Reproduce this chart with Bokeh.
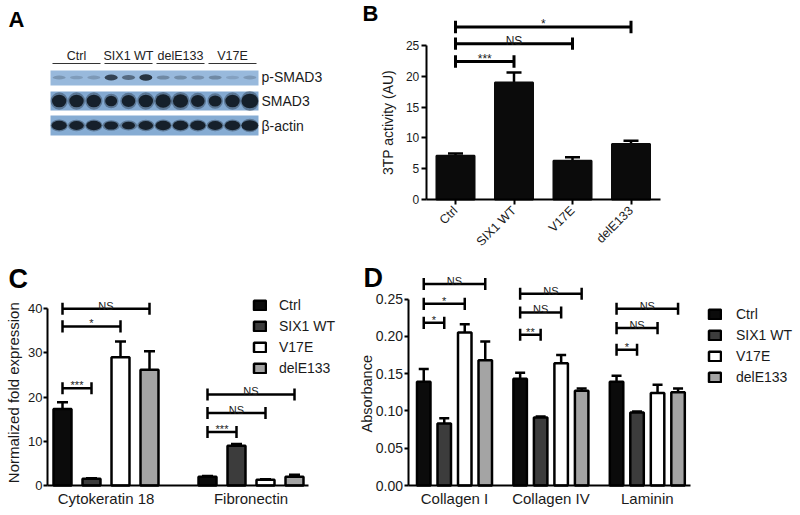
import math
from bokeh.plotting import figure
from bokeh.models import (Range1d, FixedTicker, Whisker, TeeHead, ColumnDataSource,
                          Legend, LegendItem, NumeralTickFormatter)
from bokeh.layouts import column, row
from bokeh.core.properties import value
from bokeh.embed import file_html
from bokeh.resources import INLINE

FONT = "Liberation Sans"

# ---------------- data ----------------
# Panel A (western blot band strengths, 12 lanes)
blot_groups = ["Ctrl", "SIX1 WT", "delE133", "V17E"]
blot_rows = ["p-SMAD3", "SMAD3", "\u03b2-actin"]
psmad3_band = [0.22, 0.18, 0.20, 0.75, 0.50, 0.85, 0.30, 0.28, 0.25, 0.30, 0.15, 0.20]
smad3_band = [0.90, 0.90, 0.90, 0.75, 0.85, 0.90, 0.95, 0.95, 0.85, 0.80, 0.90, 1.05]
actin_band = [0.85, 0.80, 0.85, 0.75, 0.70, 0.80, 0.85, 0.85, 0.85, 0.80, 0.85, 0.95]

# Panel B
b_categories = ["Ctrl", "SIX1 WT", "V17E", "delE133"]
b_mean = [7.1, 19.0, 6.3, 9.0]
b_sem = [0.35, 1.6, 0.55, 0.55]
b_sig_target = [3, 2, 1]
b_sig_y = [28.0, 25.3, 22.4]
b_sig_label = ["*", "NS", "***"]

# Panel C
series = ["Ctrl", "SIX1 WT", "V17E", "delE133"]
series_colors = ["#0b0b0b", "#3c3c3c", "#ffffff", "#a4a4a4"]
c_groups = ["Cytokeratin 18", "Fibronectin"]
c_ctrl = [17.3, 2.0]
c_ctrl_sem = [1.55, 0.15]
c_six1 = [1.5, 9.0]
c_six1_sem = [0.15, 0.4]
c_v17e = [29.0, 1.3]
c_v17e_sem = [3.6, 0.1]
c_dele = [26.2, 2.0]
c_dele_sem = [4.2, 0.45]
c_sig_group = [0, 0, 0, 1, 1, 1]
c_sig_target = [3, 2, 1, 3, 2, 1]
c_sig_y = [40.0, 36.0, 22.0, 20.6, 16.4, 12.1]
c_sig_label = ["NS", "*", "***", "NS", "NS", "***"]

# Panel D
d_groups = ["Collagen I", "Collagen IV", "Laminin"]
d_ctrl = [0.139, 0.143, 0.139]
d_ctrl_sem = [0.017, 0.008, 0.008]
d_six1 = [0.083, 0.091, 0.098]
d_six1_sem = [0.007, 0.0015, 0.0012]
d_v17e = [0.205, 0.164, 0.124]
d_v17e_sem = [0.011, 0.011, 0.011]
d_dele = [0.168, 0.127, 0.125]
d_dele_sem = [0.025, 0.003, 0.005]
d_sig_group = [0, 0, 0, 1, 1, 1, 2, 2, 2]
d_sig_target = [3, 2, 1, 3, 2, 1, 3, 2, 1]
d_sig_y = [0.270, 0.2435, 0.218, 0.257, 0.232, 0.202, 0.237, 0.211, 0.182]
d_sig_label = ["NS", "*", "*", "NS", "NS", "**", "NS", "NS", "*"]


# ---------------- helpers ----------------
def base_fig(w, h, xr, yr):
    p = figure(width=w, height=h, x_range=Range1d(*xr), y_range=Range1d(*yr),
               min_border=0, output_backend="svg", toolbar_location=None)
    p.outline_line_color = None
    p.xgrid.visible = False
    p.ygrid.visible = False
    p.background_fill_color = "white"
    p.border_fill_color = "white"
    for ax in p.axis:
        ax.axis_line_width = 2
        ax.axis_line_color = "black"
        ax.major_tick_line_width = 2
        ax.major_tick_line_color = "black"
        ax.minor_tick_line_color = None
        ax.major_tick_in = 0
        ax.major_label_text_font = FONT
        ax.major_label_text_color = "#1a1a1a"
    return p


def add_whisker(p, xs, means, sems, head, lw):
    src = ColumnDataSource(dict(base=xs, lower=means,
                                upper=[m + s for m, s in zip(means, sems)]))
    w = Whisker(source=src, base="base", lower="lower", upper="upper",
                lower_head=None,
                upper_head=TeeHead(size=head, line_width=lw, line_color="black"),
                line_width=lw, line_color="black")
    p.add_layout(w)


def add_brackets(p, x0s, x1s, ys, labels, cap, fsize, lw):
    p.segment(x0=x0s, y0=ys, x1=x1s, y1=ys, line_width=lw, line_color="black")
    p.segment(x0=x0s, y0=[y - cap for y in ys], x1=x0s, y1=[y + cap for y in ys],
              line_width=lw, line_color="black")
    p.segment(x0=x1s, y0=[y - cap for y in ys], x1=x1s, y1=[y + cap for y in ys],
              line_width=lw, line_color="black")
    mids = [(a + b) / 2 for a, b in zip(x0s, x1s)]
    p.text(x=mids, y=ys, text=labels, text_align="center", text_baseline="alphabetic",
           text_font=value(FONT), text_font_size=fsize, text_color="#1a1a1a", y_offset=-3)


def add_text(p, x, y, t, size, bold=False, angle=0.0, align="left", baseline="top"):
    p.text(x=[x], y=[y], text=[t], text_align=align, text_baseline=baseline, angle=angle,
           text_font=value(FONT), text_font_style="bold" if bold else "normal",
           text_font_size=size, text_color="black" if bold else "#1a1a1a")


W, H = 798, 513      # whole layout
SPLIT_TOP_X, SPLIT_BOT_X, SPLIT_Y = 360, 340, 260

# ---------------- Panel A : blot ----------------
pa = figure(width=SPLIT_TOP_X, height=SPLIT_Y, x_range=Range1d(0, SPLIT_TOP_X),
            y_range=Range1d(SPLIT_Y, 0), output_backend="svg", toolbar_location=None,
            min_border=0, x_axis_location=None, y_axis_location=None)
pa.outline_line_color = None
pa.grid.visible = False
pa.background_fill_color = "white"
pa.border_fill_color = "white"

strip_left, strip_right = 50, 258
n_lanes = len(psmad3_band)
lane_w = (strip_right - strip_left) / n_lanes
lane_x = [strip_left + (i + 0.5) * lane_w for i in range(n_lanes)]
row_top = [70, 91, 115]
row_bot = [85, 110, 135]
row_mid = [(a + b) / 2 for a, b in zip(row_top, row_bot)]
strip_colors = ["#98b9dc", "#83a9d1", "#86acd3"]
pa.quad(left=[strip_left] * 3, right=[strip_right] * 3, top=row_top, bottom=row_bot,
        fill_color=strip_colors, line_color=None)

band_col = "#121b25"
pa.ellipse(x=lane_x, y=[row_mid[0] - 0.5] * n_lanes, width=[lane_w * 0.75] * n_lanes,
           height=[3 + 4 * v for v in psmad3_band], fill_color=band_col,
           fill_alpha=psmad3_band, line_color=None)
pa.ellipse(x=lane_x, y=[row_mid[1]] * n_lanes, width=[lane_w * min(1.05, v + 0.1) for v in smad3_band],
           height=[17 * v + 2 for v in smad3_band], fill_color=band_col, fill_alpha=0.35, line_color=None)
pa.ellipse(x=lane_x, y=[row_mid[1]] * n_lanes, width=[lane_w * 0.92 * v for v in smad3_band],
           height=[14 * v for v in smad3_band], fill_color=band_col, fill_alpha=0.95, line_color=None)
pa.ellipse(x=lane_x, y=[row_mid[2]] * n_lanes, width=[lane_w for v in actin_band],
           height=[13 * v + 1 for v in actin_band], fill_color=band_col, fill_alpha=0.35, line_color=None)
pa.ellipse(x=lane_x, y=[row_mid[2]] * n_lanes, width=[lane_w * 0.9 * v + 2 for v in actin_band],
           height=[11 * v for v in actin_band], fill_color=band_col, fill_alpha=0.95, line_color=None)

grp_center = [strip_left + (g * 3 + 1.5) * lane_w for g in range(len(blot_groups))]
pa.text(x=grp_center, y=[55] * 4, text=blot_groups, text_align="center",
        text_baseline="middle", text_font=value(FONT), text_font_size="12.5px",
        text_color="#222222")
pa.segment(x0=[strip_left + g * 3 * lane_w + 2 for g in range(4)], y0=[63] * 4,
           x1=[strip_left + (g + 1) * 3 * lane_w - 2 for g in range(4)], y1=[63] * 4,
           line_width=1.2, line_color="#333333")
pa.text(x=[261] * 3, y=[row_mid[0] - 1, row_mid[1], row_mid[2]], text=blot_rows, text_align="left",
        text_baseline="middle", text_font=value(FONT), text_font_size="14px",
        text_color="#1a1a1a")
add_text(pa, 8, 6, "A", "22px", bold=True)

# ---------------- Panel B ----------------
# 58.5 px per category, 6.16 px per unit, axis corner at (426, 199)
B_PX, B_PY, B_X0, B_Y0 = 58.5, 6.16, 455, 199
pb = base_fig(W - SPLIT_TOP_X, SPLIT_Y,
              ((SPLIT_TOP_X - B_X0) / B_PX, (W - B_X0) / B_PX),
              (-(SPLIT_Y - B_Y0) / B_PY, B_Y0 / B_PY))
b_x = list(range(len(b_categories)))
pb.vbar(x=b_x, top=b_mean, width=0.65, fill_color="#0b0b0b", line_color="#0b0b0b", line_width=2)
add_whisker(pb, b_x, b_mean, b_sem, 15, 2.5)
add_brackets(pb, [0] * 3, b_sig_target, b_sig_y, b_sig_label, 1.0, "12px", 3)
pb.yaxis.fixed_location = -0.5
pb.yaxis.ticker = FixedTicker(ticks=[0, 5, 10, 15, 20, 25])
pb.yaxis.bounds = (0, 25)
pb.yaxis.major_tick_out = 5
pb.yaxis.major_label_standoff = 2
pb.yaxis.major_label_text_font_size = "12px"
pb.xaxis.fixed_location = 0
pb.xaxis.bounds = (-0.5, 3.5)
pb.xaxis.ticker = FixedTicker(ticks=b_x)
pb.xaxis.major_label_overrides = {i: c for i, c in zip(b_x, b_categories)}
pb.xaxis.major_label_orientation = math.pi / 4
pb.xaxis.major_tick_out = 5
pb.xaxis.major_label_text_font_size = "12.5px"
pb.xaxis.major_label_standoff = 4
add_text(pb, (387 - B_X0) / B_PX, 12.5, "3TP activity (AU)", "14px", angle=math.pi / 2,
         align="center", baseline="middle")
add_text(pb, (362 - B_X0) / B_PX, B_Y0 / B_PY, "B", "22px", bold=True)

# ---------------- Panel C ----------------
# 145 px per group, 4.42 px per unit, axis corner at (47, 485)
C_PX, C_PY, C_X0, C_Y0 = 145, 4.42, 105.5, 485
pc = base_fig(SPLIT_BOT_X, H - SPLIT_Y,
              ((0 - C_X0) / C_PX, (SPLIT_BOT_X - C_X0) / C_PX),
              (-(H - C_Y0) / C_PY, (C_Y0 - SPLIT_Y) / C_PY))
c_vals = [c_ctrl, c_six1, c_v17e, c_dele]
c_sems = [c_ctrl_sem, c_six1_sem, c_v17e_sem, c_dele_sem]
c_step = 0.2
c_items = []
for j, (vals, sems) in enumerate(zip(c_vals, c_sems)):
    xs = [g + (j - 1.5) * c_step for g in range(len(c_groups))]
    r = pc.vbar(x=xs, top=vals, width=0.124, fill_color=series_colors[j],
                line_color="black", line_width=2.5)
    add_whisker(pc, xs, vals, sems, 11, 2.5)
    c_items.append(LegendItem(label=series[j], renderers=[r]))
c_x0 = [g - 1.5 * c_step for g in c_sig_group]
c_x1 = [g + (t - 1.5) * c_step for g, t in zip(c_sig_group, c_sig_target)]
add_brackets(pc, c_x0, c_x1, c_sig_y, c_sig_label, 1.36, "11px", 2.5)
pc.yaxis.fixed_location = (47 - C_X0) / C_PX
pc.yaxis.ticker = FixedTicker(ticks=[0, 10, 20, 30, 40])
pc.yaxis.bounds = (0, 40)
pc.yaxis.major_tick_out = 4
pc.yaxis.major_label_standoff = 1
pc.yaxis.major_label_text_font_size = "13px"
pc.xaxis.fixed_location = 0
pc.xaxis.bounds = ((47 - C_X0) / C_PX, (308 - C_X0) / C_PX)
pc.xaxis.ticker = FixedTicker(ticks=list(range(len(c_groups))))
pc.xaxis.major_label_overrides = {i: g for i, g in enumerate(c_groups)}
pc.xaxis.major_tick_out = 0
pc.xaxis.major_tick_line_color = None
pc.xaxis.major_label_standoff = 4
pc.xaxis.major_label_text_font_size = "15px"
c_leg = Legend(items=c_items, location=(252, 137), glyph_width=15, glyph_height=12,
               label_height=16, spacing=5, label_standoff=12, padding=0, margin=0,
               border_line_color=None, background_fill_alpha=0,
               label_text_font=FONT, label_text_font_size="14px", label_text_color="#1a1a1a")
pc.add_layout(c_leg)
add_text(pc, (13 - C_X0) / C_PX, 21, "Normalized fold expression", "15px", angle=math.pi / 2,
         align="center", baseline="middle")
add_text(pc, (8 - C_X0) / C_PX, (C_Y0 - 263) / C_PY, "C", "27px", bold=True)

# ---------------- Panel D ----------------
# 96.4 px per group, 746 px per unit, axis corner at (407.5, 485)
D_PX, D_PY, D_X0, D_Y0 = 96.4, 746, 454, 485
pd_ = base_fig(W - SPLIT_BOT_X, H - SPLIT_Y,
               ((SPLIT_BOT_X - D_X0) / D_PX, (W - D_X0) / D_PX),
               (-(H - D_Y0) / D_PY, (D_Y0 - SPLIT_Y) / D_PY))
d_vals = [d_ctrl, d_six1, d_v17e, d_dele]
d_sems = [d_ctrl_sem, d_six1_sem, d_v17e_sem, d_dele_sem]
d_step = 0.2127
d_items = []
for j, (vals, sems) in enumerate(zip(d_vals, d_sems)):
    xs = [g + (j - 1.5) * d_step for g in range(len(d_groups))]
    r = pd_.vbar(x=xs, top=vals, width=0.14, fill_color=series_colors[j],
                 line_color="black", line_width=2.5)
    add_whisker(pd_, xs, vals, sems, 10, 2.5)
    d_items.append(LegendItem(label=series[j], renderers=[r]))
d_x0 = [g - 1.5 * d_step for g in d_sig_group]
d_x1 = [g + (t - 1.5) * d_step for g, t in zip(d_sig_group, d_sig_target)]
add_brackets(pd_, d_x0, d_x1, d_sig_y, d_sig_label, 0.0081, "11px", 2.5)
pd_.yaxis.fixed_location = (407.5 - D_X0) / D_PX
pd_.yaxis.ticker = FixedTicker(ticks=[0, 0.05, 0.10, 0.15, 0.20, 0.25])
pd_.yaxis.bounds = (0, 0.25)
pd_.yaxis.formatter = NumeralTickFormatter(format="0.00")
pd_.yaxis.major_tick_out = 4
pd_.yaxis.major_label_standoff = 1
pd_.yaxis.major_label_text_font_size = "14px"
pd_.xaxis.fixed_location = 0
pd_.xaxis.bounds = ((407.5 - D_X0) / D_PX, (690 - D_X0) / D_PX)
pd_.xaxis.ticker = FixedTicker(ticks=list(range(len(d_groups))))
pd_.xaxis.major_label_overrides = {i: g for i, g in enumerate(d_groups)}
pd_.xaxis.major_tick_out = 0
pd_.xaxis.major_tick_line_color = None
pd_.xaxis.major_label_standoff = 4
pd_.xaxis.major_label_text_font_size = "15px"
d_leg = Legend(items=d_items, location=(367, 128), glyph_width=15, glyph_height=12,
               label_height=16, spacing=5, label_standoff=14, padding=0, margin=0,
               border_line_color=None, background_fill_alpha=0,
               label_text_font=FONT, label_text_font_size="14px", label_text_color="#1a1a1a")
pd_.add_layout(d_leg)
add_text(pd_, (366 - D_X0) / D_PX, 0.123, "Absorbance", "14.5px", angle=math.pi / 2,
         align="center", baseline="middle")
add_text(pd_, (363 - D_X0) / D_PX, (D_Y0 - 262) / D_PY, "D", "27px", bold=True)

layout = column(row(pa, pb), row(pc, pd_))
open("out.html", "w").write(file_html(layout, INLINE, "chart"))
